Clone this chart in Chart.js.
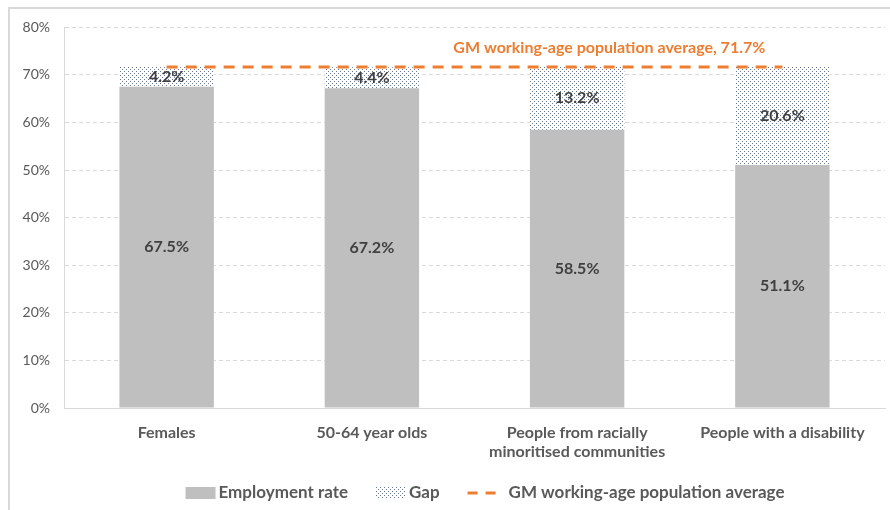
<!DOCTYPE html>
<html lang="en">
<head>
  <meta charset="UTF-8" />
  <title>GM employment rate gaps</title>
  <script src="https://cdn.jsdelivr.net/npm/chart.js@4.4.0/dist/chart.umd.min.js"></script>
  <style>
    html, body { margin: 0; padding: 0; background: #fff; overflow: hidden; }
    #frame {
      position: absolute; left: 8px; top: 7px;
      width: 900px; height: 520px;
      border-left: 2px solid #d9d9d9; border-top: 2px solid #d9d9d9;
    }
    #wrap { position: absolute; left: 0; top: -4px; width: 880px; height: 505px; }
  </style>
</head>
<body>
  <div id="frame"><div id="wrap"><canvas id="gapChart"></canvas></div></div>

  <script>
    // ---- data ------------------------------------------------------------
    const groups = ['Females', '50-64 year olds',
                    ['People from racially', 'minoritised communities'],
                    'People with a disability'];
    const employmentRate = [67.5, 67.2, 58.5, 51.1];
    const gap            = [4.2, 4.4, 13.2, 20.6];
    const gmAverage      = 71.7;
    const yTicks         = [0, 10, 20, 30, 40, 50, 60, 70, 80];

    const FONT  = 'Lato, "Open Sans", sans-serif';
    const GREY  = '#595959';
    const ORANGE = '#ED7D31';

    // dotted fill used for the gap segments
    function dotPattern(color) {
      const c = document.createElement('canvas');
      c.width = 4; c.height = 4;
      const g = c.getContext('2d');
      g.fillStyle = '#fff';
      g.fillRect(0, 0, 4, 4);
      g.fillStyle = color;
      g.fillRect(0, 0, 1, 1);
      g.fillRect(2, 2, 1, 1);
      return g.createPattern(c, 'repeat');
    }
    const gapFill = dotPattern('#6a7890');

    // ---- plugins ---------------------------------------------------------
    const valueLabels = {
      id: 'valueLabels',
      afterDatasetsDraw(chart) {
        const ctx = chart.ctx;
        ctx.save();
        ctx.font = 'bold 16px ' + FONT;
        ctx.fillStyle = '#404040';
        ctx.textAlign = 'center';
        ctx.textBaseline = 'middle';
        [0, 1].forEach(di => {
          const ds = chart.data.datasets[di];
          chart.getDatasetMeta(di).data.forEach((bar, i) => {
            const y = (bar.y + bar.base) / 2;
            ctx.fillText(ds.data[i].toFixed(1) + '%', bar.x, y);
          });
        });
        // average label above the dashed line
        const pts = chart.getDatasetMeta(2).data;
        const last = pts[pts.length - 1];
        ctx.font = 'bold 16px ' + FONT;
        ctx.fillStyle = ORANGE;
        ctx.textAlign = 'right';
        ctx.fillText('GM working-age population average, ' + gmAverage + '%', last.x - 17, last.y - 19);
        ctx.restore();
      }
    };

    const bottomLegend = {
      id: 'bottomLegend',
      afterDraw(chart) {
        const ctx = chart.ctx;
        ctx.save();
        ctx.font = 'bold 17px ' + FONT;
        ctx.textBaseline = 'middle';
        const items = [
          { text: 'Employment rate', kind: 'box', fill: '#bfbfbf' },
          { text: 'Gap', kind: 'box', fill: gapFill },
          { text: 'GM working-age population average', kind: 'line' }
        ];
        const sw = 30, pad = 3, space = 28;
        const widths = items.map(it => sw + pad + ctx.measureText(it.text).width);
        const total = widths.reduce((a, b) => a + b, 0) + space * (items.length - 1) + 8;
        let x = 475 - total / 2;
        const y = 488;
        items.forEach((it, i) => {
          if (it.kind === 'box') {
            ctx.fillStyle = it.fill;
            ctx.fillRect(x, y - 6, sw, 12);
          } else {
            ctx.strokeStyle = ORANGE;
            ctx.lineWidth = 3;
            ctx.setLineDash([10, 8]);
            ctx.beginPath();
            ctx.moveTo(x, y);
            ctx.lineTo(x + sw + 6, y);
            ctx.stroke();
            ctx.setLineDash([]);
          }
          ctx.fillStyle = GREY;
          ctx.textAlign = 'left';
          ctx.fillText(it.text, x + sw + pad + (it.kind === 'line' ? 8 : 0), y);
          x += widths[i] + space + (it.kind === 'line' ? 8 : 0);
        });
        ctx.restore();
      }
    };

    // ---- chart -----------------------------------------------------------
    new Chart(document.getElementById('gapChart'), {
      data: {
        labels: groups,
        datasets: [
          { type: 'bar', label: 'Employment rate', data: employmentRate,
            backgroundColor: '#bfbfbf', stack: 's', order: 2,
            categoryPercentage: 1, barPercentage: 0.46 },
          { type: 'bar', label: 'Gap', data: gap,
            backgroundColor: gapFill, stack: 's', order: 2,
            categoryPercentage: 1, barPercentage: 0.46 },
          { type: 'line', label: 'GM working-age population average',
            data: groups.map(() => gmAverage),
            borderColor: ORANGE, borderWidth: 3, borderDash: [11, 8],
            pointRadius: 0, fill: false, order: 1 }
        ]
      },
      options: {
        responsive: true,
        maintainAspectRatio: false,
        animation: false,
        layout: { padding: { top: 6, right: 5, bottom: 0, left: 0 } },
        plugins: { legend: { display: false }, tooltip: { enabled: false } },
        scales: {
          x: {
            stacked: true,
            afterFit: axis => { axis.height = 102; },
            grid: { display: false },
            border: { color: '#d9d9d9', width: 1 },
            ticks: { color: GREY, font: { family: FONT, size: 16, weight: 'bold' },
                     padding: 7, maxRotation: 0, autoSkip: false }
          },
          y: {
            stacked: true,
            min: 0, max: 80,
            afterBuildTicks: axis => { axis.ticks = yTicks.map(v => ({ value: v })); },
            afterFit: axis => { axis.width = 54; },
            grid: { color: '#d9d9d9', drawTicks: false },
            border: { color: '#d9d9d9', width: 1, dash: [4, 3] },
            ticks: { color: GREY, font: { family: FONT, size: 14 }, padding: 14,
                     callback: v => v + '%' }
          }
        }
      },
      plugins: [valueLabels, bottomLegend]
    });
  </script>
</body>
</html>
